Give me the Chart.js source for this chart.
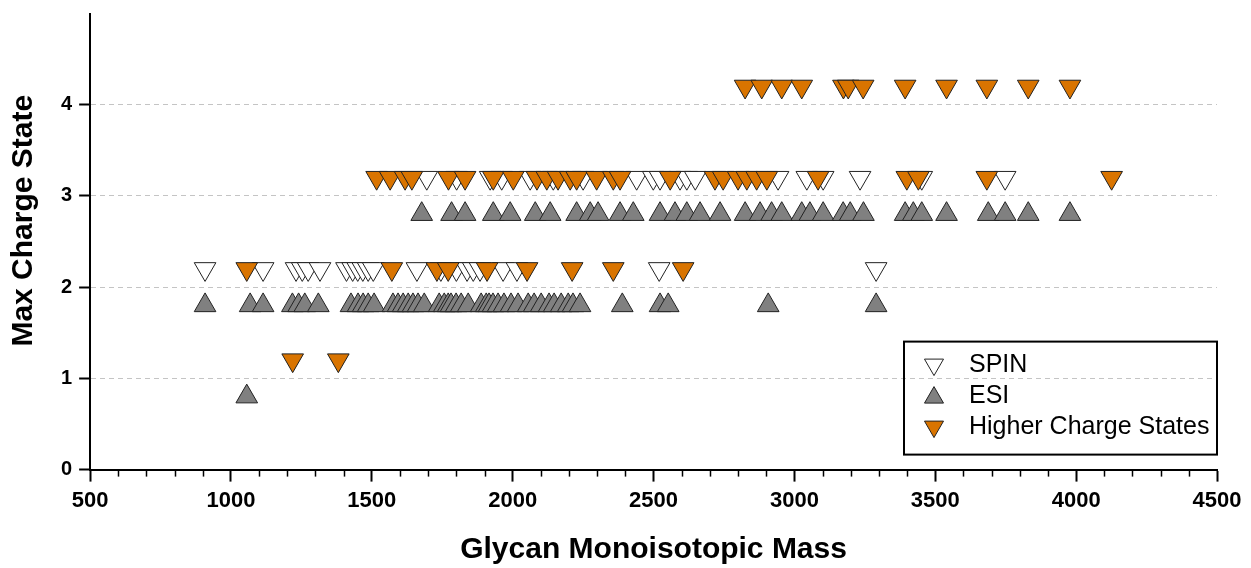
<!DOCTYPE html>
<html>
<head>
<meta charset="utf-8">
<script src="https://cdn.jsdelivr.net/npm/chart.js@4.4.1/dist/chart.umd.min.js"></script>
<style>
  body { margin: 0; background: #fff; }
  #wrap { width: 1251px; height: 568px; position: relative; }
</style>
</head>
<body>
<div id="wrap"><canvas id="chargeChart"></canvas></div>
<script>
// glycan masses, grouped by max charge state
const spinZ2 = [908, 1114, 1231, 1253, 1274, 1316, 1410, 1432, 1450, 1468, 1487, 1505, 1660, 1745, 1800, 1838, 1860, 1884, 1966, 2015, 2520, 3290];
const spinZ3 = [1695, 1801, 1920, 1961, 2062, 2144, 2250, 2440, 2499, 2523, 2594, 2618, 2648, 2942, 3044, 3102, 3233, 3452, 3748];

const esiZ1 = [1056];
const esiZ2 = [908, 1068, 1114, 1218, 1240, 1262, 1310, 1426, 1451, 1469, 1487, 1508, 1575, 1593, 1611, 1629, 1646, 1664, 1686,
  1739, 1757, 1771, 1781, 1799, 1817, 1842, 1888, 1906, 1916, 1930, 1948, 1969, 1994, 2019, 2055, 2076, 2101, 2129, 2147,
  2172, 2197, 2214, 2239, 2389, 2523, 2552, 2907, 3290];
const esiZ3 = [1677, 1783, 1831, 1931, 1991, 2080, 2133, 2227, 2275, 2303, 2381, 2428, 2523, 2576, 2618, 2665, 2736, 2825, 2878,
  2919, 2955, 3026, 3055, 3102, 3173, 3198, 3245, 3393, 3422, 3452, 3540, 3688, 3748, 3830, 3978];

const higherZ1 = [1219, 1381];
const higherZ2 = [1056, 1571, 1731, 1771, 1909, 2051, 2211, 2357, 2605];
const higherZ3 = [1517, 1565, 1618, 1642, 1772, 1831, 1931, 2002, 2086, 2121, 2161, 2204, 2227, 2298, 2357, 2381, 2559,
  2718, 2747, 2800, 2831, 2866, 2902, 3084, 3399, 3440, 3683, 4126];
const higherZ4 = [2825, 2884, 2955, 3026, 3174, 3191, 3244, 3393, 3540, 3683, 3830, 3978];

const seriesNames = ['SPIN', 'ESI', 'Higher Charge States'];
const yTicks = [0, 1, 2, 3, 4];

// markers sit a little above/below the integer line
function pts(groups, shift) {
  const out = [];
  groups.forEach(function (g) {
    g.masses.forEach(function (m) { out.push({ x: m, y: g.z + shift }); });
  });
  return out;
}

const FONT = '"Liberation Sans", Arial, sans-serif';
const ORANGE = '#d97400';

const minorTicks = {
  id: 'minorTicks',
  afterDraw(chart) {
    const ctx = chart.ctx;
    const sx = chart.scales.x;
    const y0 = chart.chartArea.bottom;
    ctx.save();
    ctx.strokeStyle = '#000';
    ctx.lineWidth = 1.5;
    for (let v = 600; v < 4500; v += 100) {
      if (v % 500 === 0) continue;
      const px = Math.round(sx.getPixelForValue(v)) + 0.5;
      ctx.beginPath();
      ctx.moveTo(px, y0);
      ctx.lineTo(px, y0 + 7);
      ctx.stroke();
    }
    ctx.restore();
  }
};

function tri(ctx, x, y, r, down, fill) {
  const s = down ? -1 : 1;
  ctx.beginPath();
  ctx.moveTo(x, y - s * r);
  ctx.lineTo(x + r * 0.866, y + s * r * 0.5);
  ctx.lineTo(x - r * 0.866, y + s * r * 0.5);
  ctx.closePath();
  ctx.fillStyle = fill;
  ctx.fill();
  ctx.strokeStyle = '#222';
  ctx.lineWidth = 1;
  ctx.stroke();
}

const boxLegend = {
  id: 'boxLegend',
  afterDraw(chart) {
    const ctx = chart.ctx;
    const a = chart.chartArea;
    const w = 313, h = 113;
    const x0 = a.right - w, y0 = a.bottom - 15 - h;
    ctx.save();
    ctx.strokeStyle = '#000';
    ctx.lineWidth = 2;
    ctx.strokeRect(x0, y0, w, h);
    const fills = ['#ffffff', '#808080', ORANGE];
    const downs = [true, false, true];
    ctx.font = '25px ' + FONT;
    ctx.textBaseline = 'middle';
    for (let i = 0; i < 3; i++) {
      const cy = y0 + 23 + i * 31;
      tri(ctx, x0 + 30, cy + (downs[i] ? 0 : 2), 11, downs[i], fills[i]);
      ctx.fillStyle = '#000';
      ctx.fillText(seriesNames[i], x0 + 65, cy + 1);
    }
    ctx.restore();
  }
};

new Chart(document.getElementById('chargeChart'), {
  type: 'scatter',
  data: {
    datasets: [
      {
        label: seriesNames[0],
        data: pts([{ z: 2, masses: spinZ2 }, { z: 3, masses: spinZ3 }], 0.2),
        backgroundColor: '#ffffff',
        pointRotation: 180,
        order: 1
      },
      {
        label: seriesNames[1],
        data: pts([{ z: 1, masses: esiZ1 }, { z: 2, masses: esiZ2 }, { z: 3, masses: esiZ3 }], -0.2),
        backgroundColor: '#808080',
        pointRotation: 0,
        order: 2
      },
      {
        label: seriesNames[2],
        data: pts([{ z: 1, masses: higherZ1 }, { z: 2, masses: higherZ2 }, { z: 3, masses: higherZ3 }, { z: 4, masses: higherZ4 }], 0.2),
        backgroundColor: ORANGE,
        pointRotation: 180,
        order: 0
      }
    ]
  },
  options: {
    responsive: true,
    maintainAspectRatio: false,
    animation: false,
    events: [],
    elements: {
      point: { pointStyle: 'triangle', radius: 12.5, borderWidth: 1, borderColor: '#222' }
    },
    layout: { padding: { top: 12, right: 34, bottom: 0, left: 0 } },
    plugins: {
      legend: { display: false },
      tooltip: { enabled: false }
    },
    scales: {
      x: {
        type: 'linear',
        min: 500,
        max: 4500,
        ticks: {
          stepSize: 500,
          color: '#000',
          padding: 6,
          callback: function (v) { return String(v); },
          font: { family: FONT, size: 22, weight: 'bold' }
        },
        grid: {
          drawOnChartArea: false,
          tickLength: 12,
          tickWidth: 2,
          tickColor: '#000'
        },
        border: { color: '#000', width: 2 },
        title: {
          display: true,
          text: 'Glycan Monoisotopic Mass',
          color: '#000',
          padding: { top: 12, bottom: 0 },
          font: { family: FONT, size: 30, weight: 'bold' }
        }
      },
      y: {
        type: 'linear',
        min: 0,
        max: 5,
        afterBuildTicks(scale) {
          scale.ticks = yTicks.map(function (v) { return { value: v }; }).concat([{ value: 5 }]);
        },
        afterFit(scale) {
          scale.paddingTop = 0;
        },
        ticks: {
          color: '#000',
          padding: 7,
          callback: function (v) { return yTicks.indexOf(v) >= 0 ? String(v) : ''; },
          font: { family: FONT, size: 20, weight: 'bold' }
        },
        grid: {
          color: function (c) { return (c.tick && c.tick.value > 0 && c.tick.value < 5) ? '#c4c4c4' : 'rgba(0,0,0,0)'; },
          lineWidth: 1,
          tickLength: 11,
          tickWidth: 2,
          tickColor: function (c) { return (c.tick && c.tick.value === 5) ? 'rgba(0,0,0,0)' : '#000'; }
        },
        border: { color: '#000', width: 2, dash: [5, 4] },
        title: {
          display: true,
          text: '     Max Charge State',
          color: '#000',
          padding: { top: 6, bottom: 12 },
          font: { family: FONT, size: 30, weight: 'bold' }
        }
      }
    }
  },
  plugins: [minorTicks, boxLegend]
});
</script>
</body>
</html>
